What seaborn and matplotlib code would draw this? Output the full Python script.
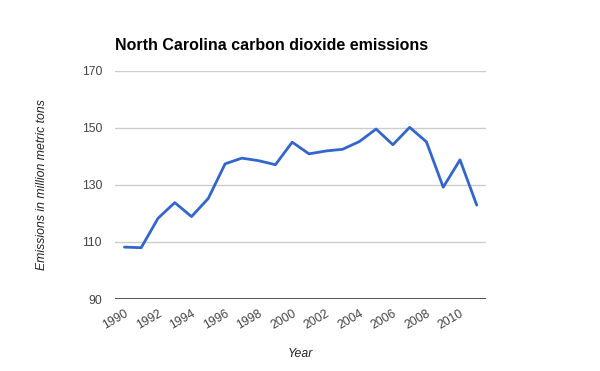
import pandas as pd
import seaborn as sns
import matplotlib.pyplot as plt

years = list(range(1990, 2012))
emissions = [108.2, 108.0, 118.3, 123.8, 118.9, 125.3, 137.4, 139.4, 138.5, 137.1,
             145.0, 140.9, 141.9, 142.5, 145.2, 149.6, 144.1, 150.2, 145.1, 129.2,
             138.8, 122.9]
y_ticks = [90, 110, 130, 150, 170]
x_ticks = list(range(1990, 2011, 2))

df = pd.DataFrame({"year": years, "emissions": emissions})

sns.set_style("white")
plt.rcParams["font.family"] = ["Liberation Sans", "DejaVu Sans"]

fig = plt.figure(figsize=(6, 3.71), dpi=100)
ax = fig.add_axes([0.192, 0.194, 0.618, 0.615])

for v in y_ticks[1:]:
    ax.axhline(v, color="#cccccc", lw=1, zorder=0)
ax.axhline(90, color="#333333", lw=1.2, zorder=1)

sns.lineplot(data=df, x="year", y="emissions", ax=ax, color="#3366cc", lw=2, zorder=3)

ax.set_xlim(1989.45, 2011.55)
ax.set_ylim(90, 170)
ax.set_yticks(y_ticks)
ax.set_xticks(x_ticks)
ax.set_xticklabels([str(x) for x in x_ticks], rotation=30, ha="right",
                   rotation_mode="anchor")
ax.tick_params(axis="both", length=0, labelsize=8.8, labelcolor="#444444")
ax.tick_params(axis="x", pad=6)
ax.tick_params(axis="y", pad=9.5)
for s in ax.spines.values():
    s.set_visible(False)

ax.set_xlabel("Year", fontsize=8.8, style="italic", color="#222222", labelpad=12)
ax.set_ylabel("Emissions in million metric tons", fontsize=8.8, style="italic",
              color="#222222", labelpad=24)
fig.text(0.192, 0.878, "North Carolina carbon dioxide emissions", fontsize=11.5,
         fontweight="bold", color="#000000", ha="left", va="center")

fig.savefig("out.png", dpi=100)
